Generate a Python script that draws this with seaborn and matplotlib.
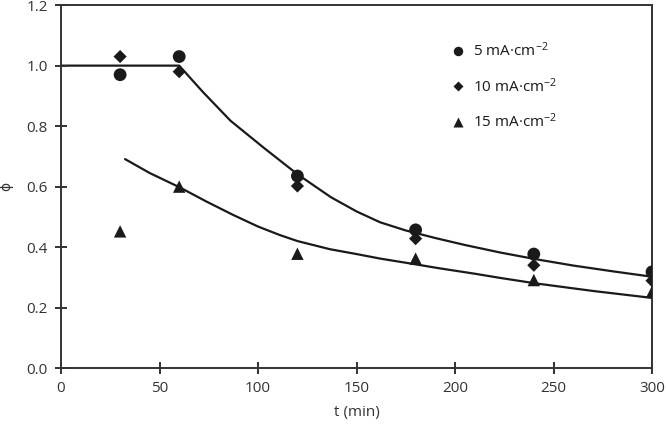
import pandas as pd
import seaborn as sns
import matplotlib.pyplot as plt
from matplotlib.ticker import MultipleLocator, FormatStrFormatter

# measured points
t = [30, 60, 120, 180, 240, 300]
phi_5 = [0.97, 1.03, 0.635, 0.457, 0.377, 0.318]
phi_10 = [1.03, 0.98, 0.602, 0.428, 0.340, 0.289]
phi_15 = [0.452, 0.600, 0.378, 0.362, 0.291, 0.252]
labels = ['5 mA·cm$^{-2}$', '10 mA·cm$^{-2}$', '15 mA·cm$^{-2}$']

# model curves
fit_hi_t = [0, 60, 72, 86, 103, 120, 137, 150, 162, 175, 190, 205, 223, 241, 260, 280, 300]
fit_hi_phi = [1.0, 1.0, 0.913, 0.818, 0.728, 0.641, 0.565, 0.518, 0.482, 0.455, 0.430,
              0.407, 0.382, 0.360, 0.339, 0.320, 0.302]
fit_lo_t = [32.5, 45, 60.4, 74, 87.5, 100, 111, 120, 136.5, 150, 162, 180, 192, 210, 223, 241, 270, 300]
fit_lo_phi = [0.691, 0.645, 0.597, 0.550, 0.506, 0.468, 0.440, 0.420, 0.393, 0.377, 0.362,
              0.343, 0.330, 0.312, 0.298, 0.280, 0.255, 0.232]

df = pd.DataFrame({
    't': t * 3,
    'phi': phi_5 + phi_10 + phi_15,
    'serie': [labels[0]] * 6 + [labels[1]] * 6 + [labels[2]] * 6,
})
fit_hi = pd.DataFrame({'t': fit_hi_t, 'phi': fit_hi_phi})
fit_lo = pd.DataFrame({'t': fit_lo_t, 'phi': fit_lo_phi})

sns.set_style('ticks')
plt.rcParams['font.family'] = ['Open Sans', 'DejaVu Sans']
plt.rcParams['mathtext.default'] = 'regular'

fig = plt.figure(figsize=(6.66, 4.28), dpi=100)
ax = fig.add_axes([0.0916, 0.140, 0.8874, 0.848])

sns.lineplot(data=fit_hi, x='t', y='phi', color='#1a1a1a', lw=1.6, ax=ax, sort=False)
sns.lineplot(data=fit_lo, x='t', y='phi', color='#1a1a1a', lw=1.6, ax=ax, sort=False)

sns.scatterplot(data=df, x='t', y='phi', style='serie', color='#1a1a1a',
                markers={labels[0]: 'o', labels[1]: 'D', labels[2]: '^'},
                size='serie', sizes={labels[0]: 85, labels[1]: 45, labels[2]: 80},
                edgecolor='none', ax=ax, zorder=3)

ax.set_xlim(0, 300)
ax.set_ylim(0, 1.2)
ax.set_xticks([0, 50, 100, 150, 200, 250, 300])
ax.set_yticks([0.0, 0.2, 0.4, 0.6, 0.8, 1.0, 1.2])
ax.yaxis.set_major_formatter(FormatStrFormatter('%.1f'))
ax.set_xlabel('t (min)', fontsize=11, color='#333333', labelpad=6)
ax.set_ylabel('ϕ', fontsize=10, color='#333333', labelpad=9)
for s in ax.spines.values():
    s.set_color('#333333')
    s.set_linewidth(1.4)

leg = ax.legend(loc='upper left', bbox_to_anchor=(0.636, 0.937), frameon=False,
                fontsize=11, labelspacing=1.1, handletextpad=0.45, handlelength=1.0)
for h, ms in zip(leg.legend_handles, [6.8, 5.0, 6.5]):
    h.set_markersize(ms)
for txt in leg.get_texts():
    txt.set_color('#1a1a1a')

# ticks last, crossing the spines
ax.tick_params(axis='both', which='major', bottom=True, left=True, top=False, right=False,
               direction='inout', length=9, width=1.4, color='#333333',
               labelcolor='#333333', labelsize=11, pad=5)
for tk in ax.xaxis.get_major_ticks() + ax.yaxis.get_major_ticks():
    tk.tick1line.set_visible(True)
    tk.tick1line.set_markersize(9)
    tk.tick1line.set_markeredgewidth(1.4)
    tk.tick1line.set_markeredgecolor('#333333')
ax.set_axisbelow(False)

fig.savefig('out.png', dpi=100)
